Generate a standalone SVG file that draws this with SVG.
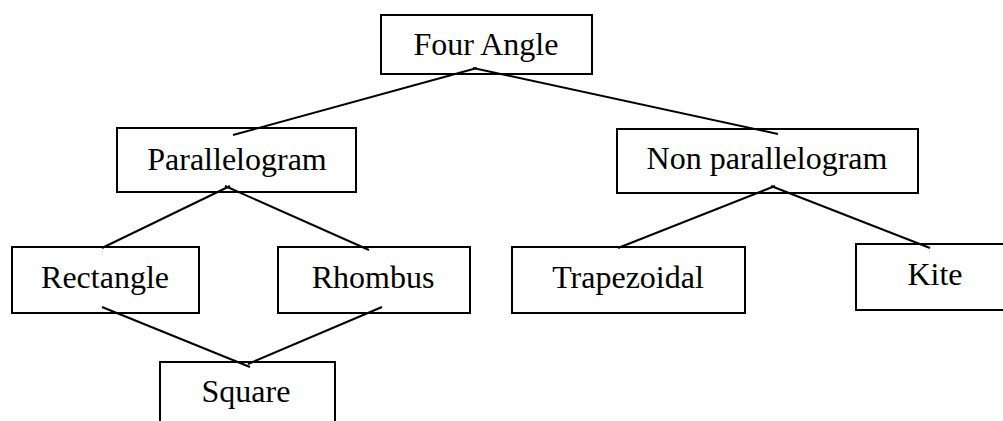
<svg xmlns="http://www.w3.org/2000/svg" width="1003" height="421" viewBox="0 0 1003 421">
<style>
.box{fill:#fff;stroke:#000;stroke-width:2}
.lbl{font-family:"Liberation Serif","Times New Roman",serif;font-size:32px;fill:#000;text-anchor:middle}
.edge{stroke:#000;stroke-width:2;fill:none}
</style>
<rect width="1003" height="421" fill="#fff"/>
<g id="n-four-angle"><rect class="box" x="381" y="15" width="211" height="59"/><text class="lbl" x="486" y="55">Four Angle</text></g>
<g id="n-parallelogram"><rect class="box" x="117" y="128" width="239" height="64"/><text class="lbl" x="237" y="170">Parallelogram</text></g>
<g id="n-non-parallelogram"><rect class="box" x="617" y="129" width="301" height="64"/><text class="lbl" x="767" y="169">Non parallelogram</text></g>
<g id="n-rectangle"><rect class="box" x="12" y="247" width="187" height="66"/><text class="lbl" x="105" y="288">Rectangle</text></g>
<g id="n-rhombus"><rect class="box" x="278" y="247" width="192" height="66"/><text class="lbl" x="373" y="288">Rhombus</text></g>
<g id="n-trapezoidal"><rect class="box" x="512" y="247" width="233" height="66"/><text class="lbl" x="628" y="288">Trapezoidal</text></g>
<g id="n-kite"><rect class="box" x="856" y="244" width="158" height="66"/><text class="lbl" x="935" y="285">Kite</text></g>
<g id="n-square"><rect class="box" x="160" y="362" width="175" height="70"/><text class="lbl" x="246" y="402">Square</text></g>
<g id="connectors">
<line class="edge" x1="477" y1="68" x2="233" y2="135"/>
<line class="edge" x1="473" y1="68" x2="778" y2="134"/>
<line class="edge" x1="230" y1="186" x2="102" y2="248"/>
<line class="edge" x1="225" y1="186" x2="369" y2="250"/>
<line class="edge" x1="775" y1="186" x2="618" y2="248"/>
<line class="edge" x1="771" y1="186" x2="930" y2="248"/>
<line class="edge" x1="102" y1="307" x2="250" y2="367"/>
<line class="edge" x1="382" y1="307" x2="248" y2="364"/>
</g>
</svg>
